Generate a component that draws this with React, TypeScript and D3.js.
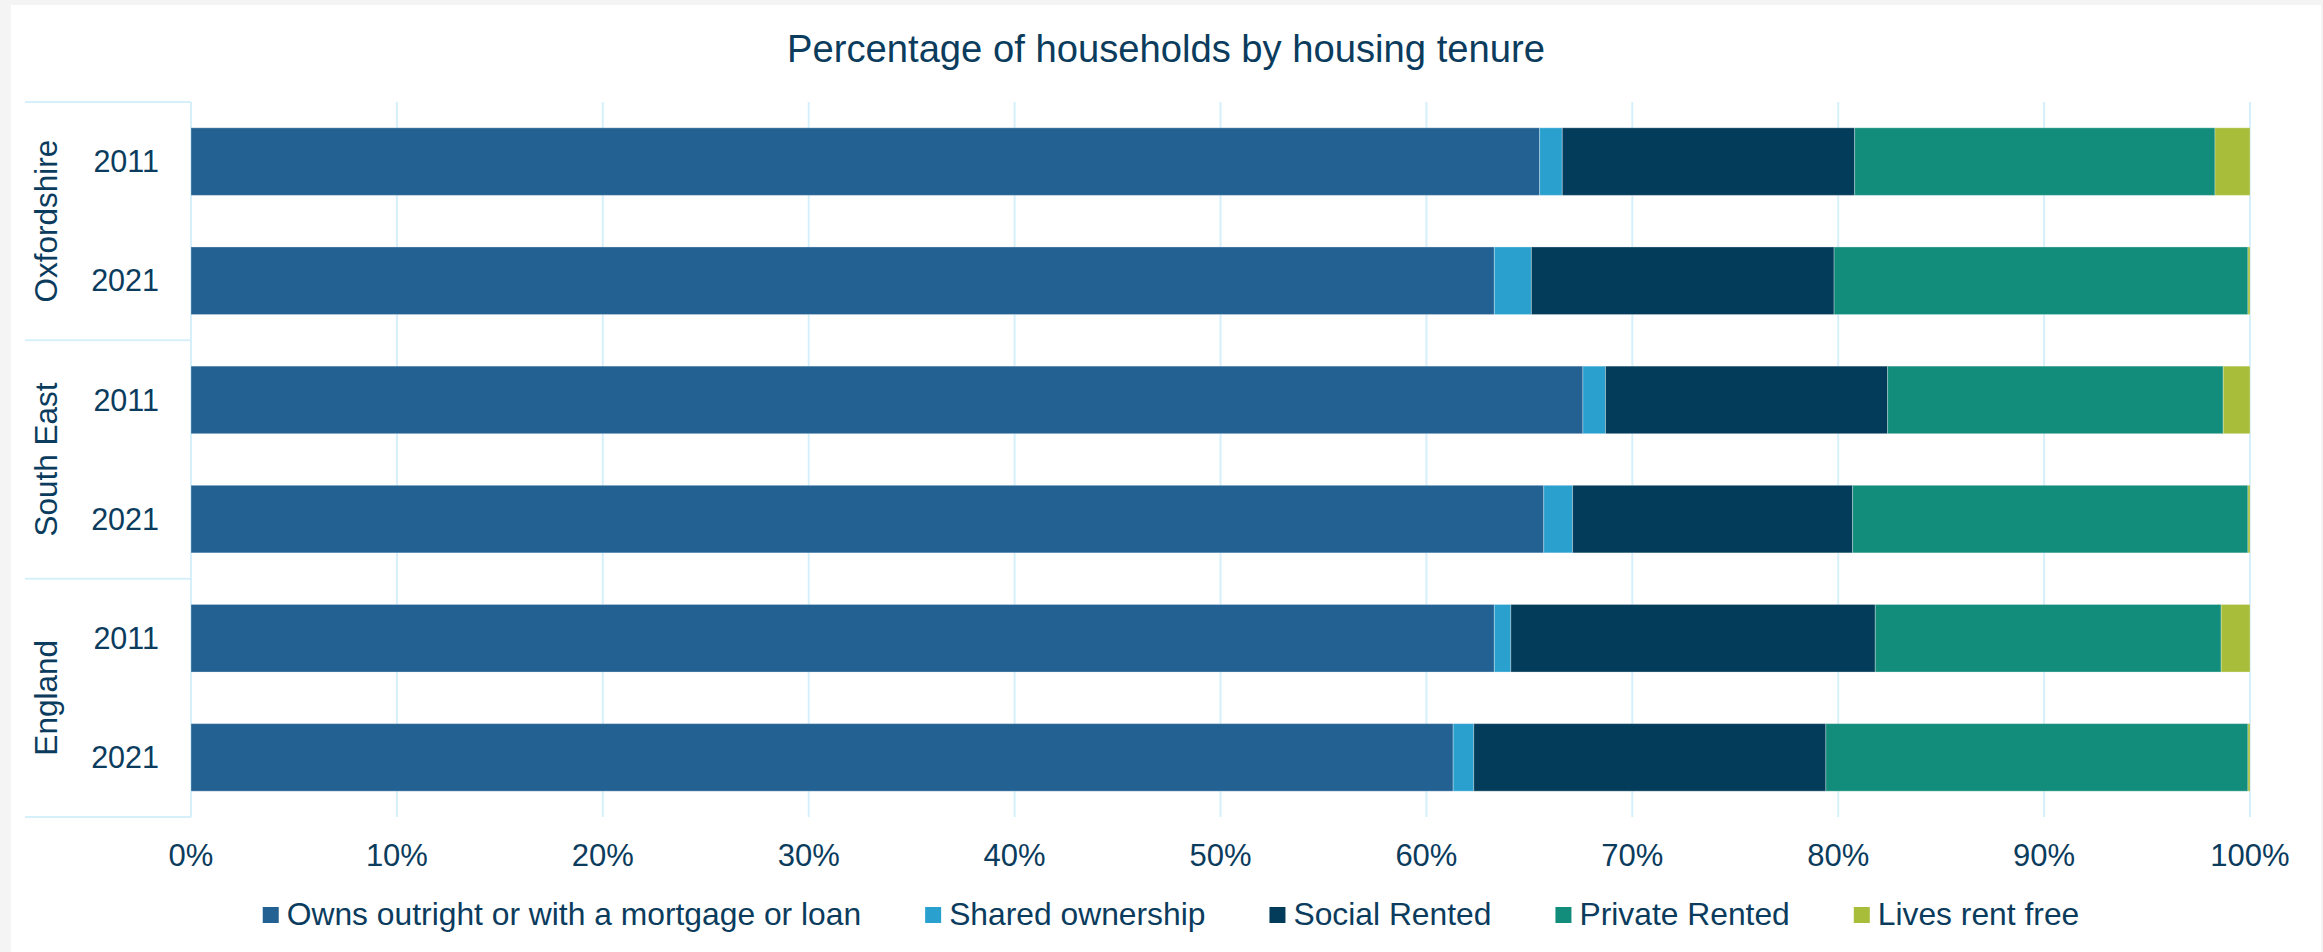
import React, { useEffect, useRef } from 'react';
import * as d3 from 'd3';

const areas = ['Oxfordshire', 'South East', 'England'];
const years = ['2011', '2021'];
const tenures = [
  'Owns outright or with a mortgage or loan',
  'Shared ownership',
  'Social Rented',
  'Private Rented',
  'Lives rent free',
];
const tenureColors = ['#236192', '#2aa0cf', '#033c5a', '#128c7b', '#a8bd3a'];

// percentages per bar, in tenure order
const oxfordshire2011 = [65.5, 1.1, 14.2, 17.5, 1.7];
const oxfordshire2021 = [63.3, 1.8, 14.7, 20.1, 0.1];
const southEast2011 = [67.6, 1.1, 13.7, 16.3, 1.3];
const southEast2021 = [65.7, 1.4, 13.6, 19.2, 0.1];
const england2011 = [63.3, 0.8, 17.7, 16.8, 1.4];
const england2021 = [61.3, 1.0, 17.1, 20.5, 0.1];

const rowValues = [
  oxfordshire2011, oxfordshire2021,
  southEast2011, southEast2021,
  england2011, england2021,
];

const xTicks = [0, 10, 20, 30, 40, 50, 60, 70, 80, 90, 100];

const W = 2323;
const H = 952;
const FONT = '"Liberation Sans", Arial, sans-serif';
const TEXT = '#0b3c5d';
const GRID = '#d6f0fb';

export default function App() {
  const svgRef = useRef<SVGSVGElement>(null);

  useEffect(() => {
    if (!svgRef.current) return;
    const svg = d3.select(svgRef.current);
    svg.selectAll('*').remove();

    const left = 191;
    const right = 2250;
    const top = 102;
    const bottom = 817;

    // background + panel
    svg.append('rect').attr('width', W).attr('height', H).attr('fill', '#f4f4f4');
    svg.append('rect').attr('x', 11).attr('y', 5).attr('width', 2310).attr('height', H).attr('fill', '#ffffff');

    // title
    svg.append('text')
      .attr('x', 1166).attr('y', 62)
      .attr('text-anchor', 'middle')
      .attr('font-family', FONT).attr('font-size', 38.2)
      .attr('fill', TEXT)
      .text('Percentage of households by housing tenure');

    const rows = areas.flatMap(a => years.map(y => ({ area: a, year: y })));
    const table = rows.map((r, i) => {
      const o: any = { key: `${r.area}-${r.year}`, area: r.area, year: r.year };
      tenures.forEach((t, j) => { o[t] = rowValues[i][j]; });
      return o;
    });

    const x = d3.scaleLinear().domain([0, 100]).range([left, right]);
    const y = d3.scaleBand<string>()
      .domain(table.map(d => d.key))
      .range([top, bottom])
      .paddingInner(0.433)
      .paddingOuter(0.2165);

    // vertical grid
    svg.append('g')
      .selectAll('line')
      .data(xTicks.slice(1))
      .join('line')
      .attr('x1', d => x(d)).attr('x2', d => x(d))
      .attr('y1', top).attr('y2', bottom)
      .attr('stroke', GRID).attr('stroke-width', 2);

    // category axis line + group separators
    svg.append('line')
      .attr('x1', left).attr('x2', left)
      .attr('y1', top).attr('y2', bottom)
      .attr('stroke', GRID).attr('stroke-width', 2);

    const groupEdges = d3.range(areas.length + 1).map(i => top + i * 2 * y.step());
    svg.append('g')
      .selectAll('line')
      .data(groupEdges)
      .join('line')
      .attr('x1', 25).attr('x2', left)
      .attr('y1', d => d).attr('y2', d => d)
      .attr('stroke', GRID).attr('stroke-width', 2);

    // bars
    const stack = d3.stack<any>().keys(tenures);
    const series = stack(table);
    svg.append('g')
      .selectAll('g')
      .data(series)
      .join('g')
      .attr('fill', (_, i) => tenureColors[i])
      .selectAll('rect')
      .data(d => d)
      .join('rect')
      .attr('x', d => x(d[0]))
      .attr('width', d => Math.max(0, x(d[1]) - x(d[0])))
      .attr('y', d => y(d.data.key) as number)
      .attr('height', y.bandwidth())
      .attr('stroke', 'rgba(255,255,255,0.3)')
      .attr('stroke-width', 1);

    // year labels
    svg.append('g')
      .selectAll('text')
      .data(table)
      .join('text')
      .attr('x', left - 32)
      .attr('y', d => (y(d.key) as number) + y.bandwidth() / 2)
      .attr('dy', '0.35em')
      .attr('text-anchor', 'end')
      .attr('font-family', FONT).attr('font-size', 30.5)
      .attr('fill', TEXT)
      .text(d => d.year);

    // area labels (rotated)
    svg.append('g')
      .selectAll('text')
      .data(areas)
      .join('text')
      .attr('transform', (_, i) => `translate(57,${(groupEdges[i] + groupEdges[i + 1]) / 2}) rotate(-90)`)
      .attr('text-anchor', 'middle')
      .attr('font-family', FONT).attr('font-size', 31.5)
      .attr('fill', TEXT)
      .text(d => d);

    // x tick labels
    svg.append('g')
      .selectAll('text')
      .data(xTicks)
      .join('text')
      .attr('x', d => x(d))
      .attr('y', 866)
      .attr('text-anchor', 'middle')
      .attr('font-family', FONT).attr('font-size', 31)
      .attr('fill', TEXT)
      .text(d => `${d}%`);

    // legend
    const legend = svg.append('g');
    const items = legend.selectAll('g')
      .data(tenures)
      .join('g');
    items.append('rect')
      .attr('width', 16).attr('height', 16)
      .attr('y', 907)
      .attr('fill', (_, i) => tenureColors[i]);
    const labels = items.append('text')
      .attr('y', 925)
      .attr('font-family', FONT).attr('font-size', 31.8)
      .attr('fill', TEXT)
      .text(d => d);

    const widths: number[] = [];
    labels.each(function () { widths.push((this as SVGTextElement).getComputedTextLength()); });
    const itemW = widths.map(w => 24 + w);
    const gap = 64;
    const total = d3.sum(itemW) + gap * (itemW.length - 1);
    let cx = 1171 - total / 2;
    const offsets: number[] = [];
    itemW.forEach(w => { offsets.push(cx); cx += w + gap; });
    items.attr('transform', (_, i) => `translate(${offsets[i]},0)`);
    items.select('text').attr('x', 24);
  }, []);

  return (
    <svg
      ref={svgRef}
      width={W}
      height={H}
      style={{ position: 'absolute', left: 0, top: 0, display: 'block' }}
    />
  );
}
